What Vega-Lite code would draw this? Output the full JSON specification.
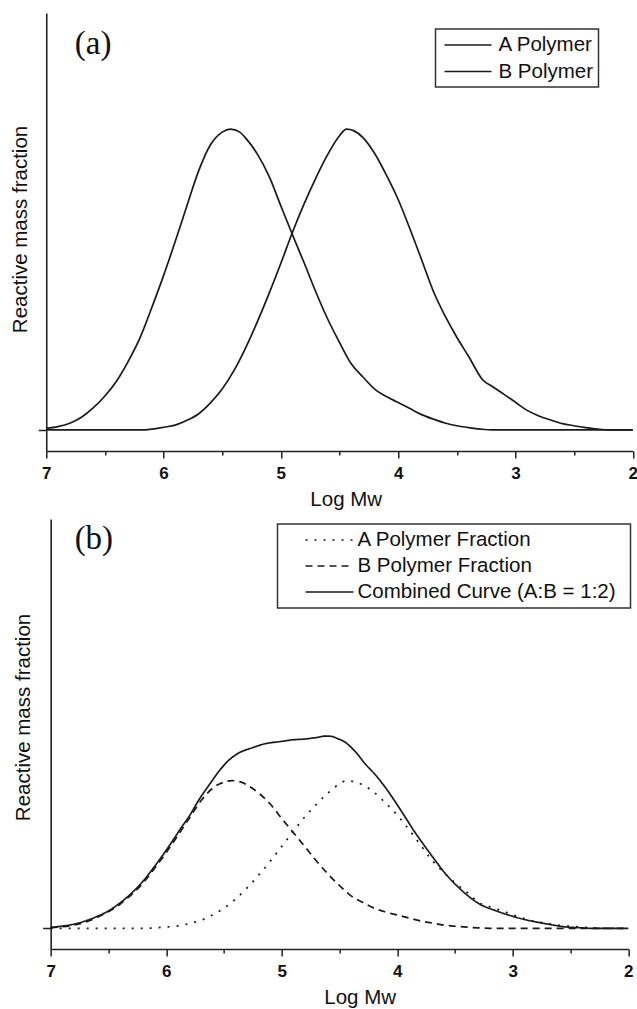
{
  "$schema": "https://vega.github.io/schema/vega-lite/v6.json",
  "background": "white",
  "padding": {"left": 10, "top": 13, "right": 0, "bottom": 0},
  "spacing": 68,
  "bounds": "flush",
  "center": true,
  "config": {
    "view": {"stroke": null},
    "font": "Liberation Sans",
    "legend": {"labelFont": "Liberation Sans", "labelColor": "#111", "labelFontSize": 20.5, "strokeColor": "#333", "strokeWidth": 1.5, "padding": 5, "labelLimit": 0, "symbolFillColor": "transparent"}
  },
  "datasets": {
    "a": [
      {"logmw": 7.0, "value": 0, "series": "A Polymer"},
      {"logmw": 6.5, "value": 0, "series": "A Polymer"},
      {"logmw": 6.2, "value": 0, "series": "A Polymer"},
      {"logmw": 6.1, "value": 0.003, "series": "A Polymer"},
      {"logmw": 6.0, "value": 0.009, "series": "A Polymer"},
      {"logmw": 5.9, "value": 0.016, "series": "A Polymer"},
      {"logmw": 5.8, "value": 0.032, "series": "A Polymer"},
      {"logmw": 5.7, "value": 0.054, "series": "A Polymer"},
      {"logmw": 5.6, "value": 0.09, "series": "A Polymer"},
      {"logmw": 5.5, "value": 0.136, "series": "A Polymer"},
      {"logmw": 5.4, "value": 0.197, "series": "A Polymer"},
      {"logmw": 5.3, "value": 0.273, "series": "A Polymer"},
      {"logmw": 5.2, "value": 0.36, "series": "A Polymer"},
      {"logmw": 5.1, "value": 0.454, "series": "A Polymer"},
      {"logmw": 5.0, "value": 0.554, "series": "A Polymer"},
      {"logmw": 4.9, "value": 0.658, "series": "A Polymer"},
      {"logmw": 4.8, "value": 0.753, "series": "A Polymer"},
      {"logmw": 4.7, "value": 0.839, "series": "A Polymer"},
      {"logmw": 4.6, "value": 0.916, "series": "A Polymer"},
      {"logmw": 4.5, "value": 0.978, "series": "A Polymer"},
      {"logmw": 4.44, "value": 1.0, "series": "A Polymer"},
      {"logmw": 4.38, "value": 0.995, "series": "A Polymer"},
      {"logmw": 4.3, "value": 0.972, "series": "A Polymer"},
      {"logmw": 4.2, "value": 0.919, "series": "A Polymer"},
      {"logmw": 4.1, "value": 0.847, "series": "A Polymer"},
      {"logmw": 4.0, "value": 0.766, "series": "A Polymer"},
      {"logmw": 3.9, "value": 0.669, "series": "A Polymer"},
      {"logmw": 3.8, "value": 0.566, "series": "A Polymer"},
      {"logmw": 3.7, "value": 0.461, "series": "A Polymer"},
      {"logmw": 3.6, "value": 0.379, "series": "A Polymer"},
      {"logmw": 3.5, "value": 0.308, "series": "A Polymer"},
      {"logmw": 3.4, "value": 0.245, "series": "A Polymer"},
      {"logmw": 3.28, "value": 0.167, "series": "A Polymer"},
      {"logmw": 3.2, "value": 0.145, "series": "A Polymer"},
      {"logmw": 3.1, "value": 0.119, "series": "A Polymer"},
      {"logmw": 3.0, "value": 0.092, "series": "A Polymer"},
      {"logmw": 2.9, "value": 0.065, "series": "A Polymer"},
      {"logmw": 2.8, "value": 0.0465, "series": "A Polymer"},
      {"logmw": 2.7, "value": 0.033, "series": "A Polymer"},
      {"logmw": 2.6, "value": 0.021, "series": "A Polymer"},
      {"logmw": 2.5, "value": 0.014, "series": "A Polymer"},
      {"logmw": 2.4, "value": 0.008, "series": "A Polymer"},
      {"logmw": 2.3, "value": 0.003, "series": "A Polymer"},
      {"logmw": 2.2, "value": 0, "series": "A Polymer"},
      {"logmw": 2.0, "value": 0, "series": "A Polymer"},
      {"logmw": 7.0, "value": 0.005, "series": "B Polymer"},
      {"logmw": 6.9, "value": 0.011, "series": "B Polymer"},
      {"logmw": 6.8, "value": 0.022, "series": "B Polymer"},
      {"logmw": 6.7, "value": 0.042, "series": "B Polymer"},
      {"logmw": 6.6, "value": 0.073, "series": "B Polymer"},
      {"logmw": 6.5, "value": 0.113, "series": "B Polymer"},
      {"logmw": 6.4, "value": 0.163, "series": "B Polymer"},
      {"logmw": 6.3, "value": 0.229, "series": "B Polymer"},
      {"logmw": 6.2, "value": 0.307, "series": "B Polymer"},
      {"logmw": 6.1, "value": 0.407, "series": "B Polymer"},
      {"logmw": 6.0, "value": 0.513, "series": "B Polymer"},
      {"logmw": 5.9, "value": 0.627, "series": "B Polymer"},
      {"logmw": 5.8, "value": 0.746, "series": "B Polymer"},
      {"logmw": 5.7, "value": 0.862, "series": "B Polymer"},
      {"logmw": 5.6, "value": 0.948, "series": "B Polymer"},
      {"logmw": 5.5, "value": 0.99, "series": "B Polymer"},
      {"logmw": 5.43, "value": 1.0, "series": "B Polymer"},
      {"logmw": 5.35, "value": 0.99, "series": "B Polymer"},
      {"logmw": 5.3, "value": 0.97, "series": "B Polymer"},
      {"logmw": 5.2, "value": 0.917, "series": "B Polymer"},
      {"logmw": 5.1, "value": 0.843, "series": "B Polymer"},
      {"logmw": 5.0, "value": 0.745, "series": "B Polymer"},
      {"logmw": 4.9, "value": 0.648, "series": "B Polymer"},
      {"logmw": 4.8, "value": 0.554, "series": "B Polymer"},
      {"logmw": 4.7, "value": 0.457, "series": "B Polymer"},
      {"logmw": 4.6, "value": 0.368, "series": "B Polymer"},
      {"logmw": 4.5, "value": 0.291, "series": "B Polymer"},
      {"logmw": 4.4, "value": 0.22, "series": "B Polymer"},
      {"logmw": 4.3, "value": 0.176, "series": "B Polymer"},
      {"logmw": 4.2, "value": 0.136, "series": "B Polymer"},
      {"logmw": 4.1, "value": 0.111, "series": "B Polymer"},
      {"logmw": 4.0, "value": 0.091, "series": "B Polymer"},
      {"logmw": 3.9, "value": 0.071, "series": "B Polymer"},
      {"logmw": 3.8, "value": 0.051, "series": "B Polymer"},
      {"logmw": 3.7, "value": 0.036, "series": "B Polymer"},
      {"logmw": 3.6, "value": 0.023, "series": "B Polymer"},
      {"logmw": 3.5, "value": 0.014, "series": "B Polymer"},
      {"logmw": 3.4, "value": 0.008, "series": "B Polymer"},
      {"logmw": 3.3, "value": 0.003, "series": "B Polymer"},
      {"logmw": 3.2, "value": 0, "series": "B Polymer"},
      {"logmw": 2.5, "value": 0, "series": "B Polymer"},
      {"logmw": 2.0, "value": 0, "series": "B Polymer"}
    ],
    "b": [
      {"logmw": 7.0, "value": 0, "series": "A Polymer Fraction"},
      {"logmw": 6.5, "value": 0, "series": "A Polymer Fraction"},
      {"logmw": 6.2, "value": 0, "series": "A Polymer Fraction"},
      {"logmw": 6.1, "value": 0.0015, "series": "A Polymer Fraction"},
      {"logmw": 6.0, "value": 0.0045, "series": "A Polymer Fraction"},
      {"logmw": 5.9, "value": 0.008, "series": "A Polymer Fraction"},
      {"logmw": 5.8, "value": 0.016, "series": "A Polymer Fraction"},
      {"logmw": 5.7, "value": 0.027, "series": "A Polymer Fraction"},
      {"logmw": 5.6, "value": 0.045, "series": "A Polymer Fraction"},
      {"logmw": 5.5, "value": 0.068, "series": "A Polymer Fraction"},
      {"logmw": 5.4, "value": 0.099, "series": "A Polymer Fraction"},
      {"logmw": 5.3, "value": 0.137, "series": "A Polymer Fraction"},
      {"logmw": 5.2, "value": 0.18, "series": "A Polymer Fraction"},
      {"logmw": 5.1, "value": 0.227, "series": "A Polymer Fraction"},
      {"logmw": 5.0, "value": 0.277, "series": "A Polymer Fraction"},
      {"logmw": 4.9, "value": 0.329, "series": "A Polymer Fraction"},
      {"logmw": 4.8, "value": 0.377, "series": "A Polymer Fraction"},
      {"logmw": 4.7, "value": 0.42, "series": "A Polymer Fraction"},
      {"logmw": 4.6, "value": 0.458, "series": "A Polymer Fraction"},
      {"logmw": 4.5, "value": 0.489, "series": "A Polymer Fraction"},
      {"logmw": 4.44, "value": 0.5, "series": "A Polymer Fraction"},
      {"logmw": 4.38, "value": 0.497, "series": "A Polymer Fraction"},
      {"logmw": 4.3, "value": 0.486, "series": "A Polymer Fraction"},
      {"logmw": 4.2, "value": 0.46, "series": "A Polymer Fraction"},
      {"logmw": 4.1, "value": 0.424, "series": "A Polymer Fraction"},
      {"logmw": 4.0, "value": 0.383, "series": "A Polymer Fraction"},
      {"logmw": 3.9, "value": 0.335, "series": "A Polymer Fraction"},
      {"logmw": 3.8, "value": 0.283, "series": "A Polymer Fraction"},
      {"logmw": 3.7, "value": 0.231, "series": "A Polymer Fraction"},
      {"logmw": 3.6, "value": 0.19, "series": "A Polymer Fraction"},
      {"logmw": 3.5, "value": 0.154, "series": "A Polymer Fraction"},
      {"logmw": 3.4, "value": 0.123, "series": "A Polymer Fraction"},
      {"logmw": 3.28, "value": 0.084, "series": "A Polymer Fraction"},
      {"logmw": 3.2, "value": 0.073, "series": "A Polymer Fraction"},
      {"logmw": 3.1, "value": 0.06, "series": "A Polymer Fraction"},
      {"logmw": 3.0, "value": 0.046, "series": "A Polymer Fraction"},
      {"logmw": 2.9, "value": 0.033, "series": "A Polymer Fraction"},
      {"logmw": 2.8, "value": 0.023, "series": "A Polymer Fraction"},
      {"logmw": 2.7, "value": 0.0165, "series": "A Polymer Fraction"},
      {"logmw": 2.6, "value": 0.0105, "series": "A Polymer Fraction"},
      {"logmw": 2.5, "value": 0.007, "series": "A Polymer Fraction"},
      {"logmw": 2.4, "value": 0.004, "series": "A Polymer Fraction"},
      {"logmw": 2.3, "value": 0.0015, "series": "A Polymer Fraction"},
      {"logmw": 2.2, "value": 0, "series": "A Polymer Fraction"},
      {"logmw": 2.0, "value": 0, "series": "A Polymer Fraction"},
      {"logmw": 7.0, "value": 0.0025, "series": "B Polymer Fraction"},
      {"logmw": 6.9, "value": 0.0055, "series": "B Polymer Fraction"},
      {"logmw": 6.8, "value": 0.011, "series": "B Polymer Fraction"},
      {"logmw": 6.7, "value": 0.021, "series": "B Polymer Fraction"},
      {"logmw": 6.6, "value": 0.0365, "series": "B Polymer Fraction"},
      {"logmw": 6.5, "value": 0.0565, "series": "B Polymer Fraction"},
      {"logmw": 6.4, "value": 0.0815, "series": "B Polymer Fraction"},
      {"logmw": 6.3, "value": 0.1145, "series": "B Polymer Fraction"},
      {"logmw": 6.2, "value": 0.1535, "series": "B Polymer Fraction"},
      {"logmw": 6.1, "value": 0.2035, "series": "B Polymer Fraction"},
      {"logmw": 6.0, "value": 0.2565, "series": "B Polymer Fraction"},
      {"logmw": 5.9, "value": 0.3135, "series": "B Polymer Fraction"},
      {"logmw": 5.8, "value": 0.373, "series": "B Polymer Fraction"},
      {"logmw": 5.7, "value": 0.431, "series": "B Polymer Fraction"},
      {"logmw": 5.6, "value": 0.474, "series": "B Polymer Fraction"},
      {"logmw": 5.5, "value": 0.495, "series": "B Polymer Fraction"},
      {"logmw": 5.43, "value": 0.5, "series": "B Polymer Fraction"},
      {"logmw": 5.35, "value": 0.495, "series": "B Polymer Fraction"},
      {"logmw": 5.3, "value": 0.485, "series": "B Polymer Fraction"},
      {"logmw": 5.2, "value": 0.458, "series": "B Polymer Fraction"},
      {"logmw": 5.1, "value": 0.421, "series": "B Polymer Fraction"},
      {"logmw": 5.0, "value": 0.372, "series": "B Polymer Fraction"},
      {"logmw": 4.9, "value": 0.324, "series": "B Polymer Fraction"},
      {"logmw": 4.8, "value": 0.277, "series": "B Polymer Fraction"},
      {"logmw": 4.7, "value": 0.228, "series": "B Polymer Fraction"},
      {"logmw": 4.6, "value": 0.184, "series": "B Polymer Fraction"},
      {"logmw": 4.5, "value": 0.145, "series": "B Polymer Fraction"},
      {"logmw": 4.4, "value": 0.11, "series": "B Polymer Fraction"},
      {"logmw": 4.3, "value": 0.088, "series": "B Polymer Fraction"},
      {"logmw": 4.2, "value": 0.068, "series": "B Polymer Fraction"},
      {"logmw": 4.1, "value": 0.055, "series": "B Polymer Fraction"},
      {"logmw": 4.0, "value": 0.045, "series": "B Polymer Fraction"},
      {"logmw": 3.9, "value": 0.035, "series": "B Polymer Fraction"},
      {"logmw": 3.8, "value": 0.025, "series": "B Polymer Fraction"},
      {"logmw": 3.7, "value": 0.018, "series": "B Polymer Fraction"},
      {"logmw": 3.6, "value": 0.011, "series": "B Polymer Fraction"},
      {"logmw": 3.5, "value": 0.007, "series": "B Polymer Fraction"},
      {"logmw": 3.4, "value": 0.004, "series": "B Polymer Fraction"},
      {"logmw": 3.3, "value": 0.0015, "series": "B Polymer Fraction"},
      {"logmw": 3.2, "value": 0, "series": "B Polymer Fraction"},
      {"logmw": 2.5, "value": 0, "series": "B Polymer Fraction"},
      {"logmw": 2.0, "value": 0, "series": "B Polymer Fraction"},
      {"logmw": 7.0, "value": 0.003, "series": "Combined Curve (A:B = 1:2)"},
      {"logmw": 6.9, "value": 0.0075, "series": "Combined Curve (A:B = 1:2)"},
      {"logmw": 6.8, "value": 0.014, "series": "Combined Curve (A:B = 1:2)"},
      {"logmw": 6.7, "value": 0.025, "series": "Combined Curve (A:B = 1:2)"},
      {"logmw": 6.6, "value": 0.04, "series": "Combined Curve (A:B = 1:2)"},
      {"logmw": 6.5, "value": 0.059, "series": "Combined Curve (A:B = 1:2)"},
      {"logmw": 6.4, "value": 0.086, "series": "Combined Curve (A:B = 1:2)"},
      {"logmw": 6.3, "value": 0.119, "series": "Combined Curve (A:B = 1:2)"},
      {"logmw": 6.2, "value": 0.16, "series": "Combined Curve (A:B = 1:2)"},
      {"logmw": 6.1, "value": 0.21, "series": "Combined Curve (A:B = 1:2)"},
      {"logmw": 6.04, "value": 0.242, "series": "Combined Curve (A:B = 1:2)"},
      {"logmw": 5.95, "value": 0.293, "series": "Combined Curve (A:B = 1:2)"},
      {"logmw": 5.866, "value": 0.343, "series": "Combined Curve (A:B = 1:2)"},
      {"logmw": 5.8, "value": 0.38, "series": "Combined Curve (A:B = 1:2)"},
      {"logmw": 5.72, "value": 0.433, "series": "Combined Curve (A:B = 1:2)"},
      {"logmw": 5.62, "value": 0.49, "series": "Combined Curve (A:B = 1:2)"},
      {"logmw": 5.533, "value": 0.537, "series": "Combined Curve (A:B = 1:2)"},
      {"logmw": 5.45, "value": 0.572, "series": "Combined Curve (A:B = 1:2)"},
      {"logmw": 5.375, "value": 0.593, "series": "Combined Curve (A:B = 1:2)"},
      {"logmw": 5.25, "value": 0.612, "series": "Combined Curve (A:B = 1:2)"},
      {"logmw": 5.144, "value": 0.625, "series": "Combined Curve (A:B = 1:2)"},
      {"logmw": 5.0, "value": 0.633, "series": "Combined Curve (A:B = 1:2)"},
      {"logmw": 4.913, "value": 0.638, "series": "Combined Curve (A:B = 1:2)"},
      {"logmw": 4.8, "value": 0.641, "series": "Combined Curve (A:B = 1:2)"},
      {"logmw": 4.7, "value": 0.646, "series": "Combined Curve (A:B = 1:2)"},
      {"logmw": 4.62, "value": 0.651, "series": "Combined Curve (A:B = 1:2)"},
      {"logmw": 4.57, "value": 0.65, "series": "Combined Curve (A:B = 1:2)"},
      {"logmw": 4.52, "value": 0.643, "series": "Combined Curve (A:B = 1:2)"},
      {"logmw": 4.451, "value": 0.63, "series": "Combined Curve (A:B = 1:2)"},
      {"logmw": 4.36, "value": 0.597, "series": "Combined Curve (A:B = 1:2)"},
      {"logmw": 4.278, "value": 0.557, "series": "Combined Curve (A:B = 1:2)"},
      {"logmw": 4.19, "value": 0.52, "series": "Combined Curve (A:B = 1:2)"},
      {"logmw": 4.105, "value": 0.478, "series": "Combined Curve (A:B = 1:2)"},
      {"logmw": 4.02, "value": 0.43, "series": "Combined Curve (A:B = 1:2)"},
      {"logmw": 3.932, "value": 0.377, "series": "Combined Curve (A:B = 1:2)"},
      {"logmw": 3.85, "value": 0.327, "series": "Combined Curve (A:B = 1:2)"},
      {"logmw": 3.758, "value": 0.276, "series": "Combined Curve (A:B = 1:2)"},
      {"logmw": 3.67, "value": 0.229, "series": "Combined Curve (A:B = 1:2)"},
      {"logmw": 3.585, "value": 0.186, "series": "Combined Curve (A:B = 1:2)"},
      {"logmw": 3.5, "value": 0.15, "series": "Combined Curve (A:B = 1:2)"},
      {"logmw": 3.412, "value": 0.118, "series": "Combined Curve (A:B = 1:2)"},
      {"logmw": 3.282, "value": 0.081, "series": "Combined Curve (A:B = 1:2)"},
      {"logmw": 3.15, "value": 0.06, "series": "Combined Curve (A:B = 1:2)"},
      {"logmw": 3.037, "value": 0.045, "series": "Combined Curve (A:B = 1:2)"},
      {"logmw": 2.9, "value": 0.03, "series": "Combined Curve (A:B = 1:2)"},
      {"logmw": 2.777, "value": 0.02, "series": "Combined Curve (A:B = 1:2)"},
      {"logmw": 2.65, "value": 0.011, "series": "Combined Curve (A:B = 1:2)"},
      {"logmw": 2.546, "value": 0.005, "series": "Combined Curve (A:B = 1:2)"},
      {"logmw": 2.42, "value": 0.002, "series": "Combined Curve (A:B = 1:2)"},
      {"logmw": 2.316, "value": 0, "series": "Combined Curve (A:B = 1:2)"},
      {"logmw": 2.0, "value": 0, "series": "Combined Curve (A:B = 1:2)"}
    ]
  },
  "vconcat": [
    {
      "width": 586.5,
      "height": 438,
      "data": {"name": "a"},
      "layer": [
        {
          "mark": {"type": "line", "interpolate": "monotone", "strokeWidth": 1.7},
          "encoding": {
            "x": {"field": "logmw", "type": "quantitative",
              "scale": {"domain": [2, 7], "reverse": true, "nice": false, "zero": false},
              "axis": {"title": "Log Mw", "values": [7, 6.5, 6, 5.5, 5, 4.5, 4, 3.5, 3, 2.5, 2],
                "labelExpr": "datum.value % 1 === 0 ? format(datum.value, '.0f') : ''",
                "tickSize": {"condition": {"test": "datum.value % 1 !== 0", "value": 4}, "value": 7},
                "tickWidth": 1.5, "tickColor": "#222", "domainColor": "#222", "domainWidth": 1.6,
                "labelFont": "Liberation Sans", "labelFontSize": 17, "labelFontWeight": "bold", "labelColor": "#111",
                "labelBaseline": "alphabetic", "labelPadding": 20, "labelFlush": false,
                "titleFont": "Liberation Sans", "titleFontSize": 20.5, "titleFontWeight": "normal", "titleColor": "#111",
                "titleX": 299.5, "titleY": 54, "titleBaseline": "alphabetic", "titleAlign": "center", "grid": false}},
            "y": {"field": "value", "type": "quantitative",
              "scale": {"domain": [-0.07, 1.386], "nice": false, "zero": false},
              "axis": {"title": "Reactive mass fraction", "values": [0], "labels": false, "tickSize": 8,
                "tickWidth": 1.5, "tickColor": "#222", "domainColor": "#222", "domainWidth": 1.6, "grid": false,
                "titleFont": "Liberation Sans", "titleFontSize": 20.5, "titleFontWeight": "normal", "titleColor": "#111",
                "titleX": -19.5, "titleY": 216, "titleBaseline": "alphabetic", "titleAngle": 270, "titleAlign": "center"}},
            "color": {"field": "series", "type": "nominal",
              "scale": {"domain": ["A Polymer", "B Polymer"], "range": ["#1a1a1a", "#1a1a1a"]},
              "legend": {"orient": "none", "legendX": 389.5, "legendY": 16, "title": null,
                "symbolType": "M-1,0H3.7", "symbolSize": 400, "symbolStrokeWidth": 1.6,
                "labelOffset": 33, "symbolOffset": 3, "rowPadding": 4.5}}
          }
        },
        {
          "data": {"values": [{}]},
          "mark": {"type": "text", "font": "Liberation Serif", "fontSize": 33, "baseline": "alphabetic", "align": "center", "color": "#111"},
          "encoding": {
            "x": {"datum": 6.6, "type": "quantitative"},
            "y": {"datum": 1.251, "type": "quantitative"},
            "text": {"value": "(a)"}
          }
        }
      ]
    },
    {
      "width": 577.7,
      "height": 430,
      "data": {"name": "b"},
      "layer": [
        {
          "mark": {"type": "line", "interpolate": "monotone", "strokeWidth": 1.7, "color": "#1a1a1a"},
          "encoding": {
            "x": {"field": "logmw", "type": "quantitative",
              "scale": {"domain": [2, 7], "reverse": true, "nice": false, "zero": false},
              "axis": {"title": "Log Mw", "values": [7, 6.5, 6, 5.5, 5, 4.5, 4, 3.5, 3, 2.5, 2],
                "labelExpr": "datum.value % 1 === 0 ? format(datum.value, '.0f') : ''",
                "tickSize": {"condition": {"test": "datum.value % 1 !== 0", "value": 4}, "value": 7},
                "tickWidth": 1.5, "tickColor": "#222", "domainColor": "#222", "domainWidth": 1.6,
                "labelFont": "Liberation Sans", "labelFontSize": 17, "labelFontWeight": "bold", "labelColor": "#111",
                "labelBaseline": "alphabetic", "labelPadding": 20, "labelFlush": false,
                "titleFont": "Liberation Sans", "titleFontSize": 20.5, "titleFontWeight": "normal", "titleColor": "#111",
                "titleX": 309, "titleY": 54, "titleBaseline": "alphabetic", "titleAlign": "center", "grid": false}},
            "y": {"field": "value", "type": "quantitative",
              "scale": {"domain": [-0.07, 1.386], "nice": false, "zero": false},
              "axis": {"title": "Reactive mass fraction", "values": [0], "labels": false, "tickSize": 8,
                "tickWidth": 1.5, "tickColor": "#222", "domainColor": "#222", "domainWidth": 1.6, "grid": false,
                "titleFont": "Liberation Sans", "titleFontSize": 20.5, "titleFontWeight": "normal", "titleColor": "#111",
                "titleX": -21.6, "titleY": 198, "titleBaseline": "alphabetic", "titleAngle": 270, "titleAlign": "center"}},
            "strokeDash": {"field": "series", "type": "nominal",
              "scale": {"domain": ["A Polymer Fraction", "B Polymer Fraction", "Combined Curve (A:B = 1:2)"], "range": [[2, 7], [7, 5], [1, 0]]},
              "legend": {"orient": "none", "legendX": 231.5, "legendY": 511,
                "title": "_", "titleOrient": "right", "titlePadding": 3, "titleFontSize": 11, "titleOpacity": 0,
                "symbolType": "M-1,0H3.8", "symbolSize": 400, "symbolStrokeWidth": 1.6,
                "symbolStrokeColor": "#1a1a1a", "labelOffset": 31, "symbolOffset": 22, "rowPadding": 4}}
          }
        },
        {
          "data": {"values": [{}]},
          "mark": {"type": "text", "font": "Liberation Serif", "fontSize": 33, "baseline": "alphabetic", "align": "center", "color": "#111"},
          "encoding": {
            "x": {"datum": 6.626, "type": "quantitative"},
            "y": {"datum": 1.286, "type": "quantitative"},
            "text": {"value": "(b)"}
          }
        }
      ]
    }
  ]
}
